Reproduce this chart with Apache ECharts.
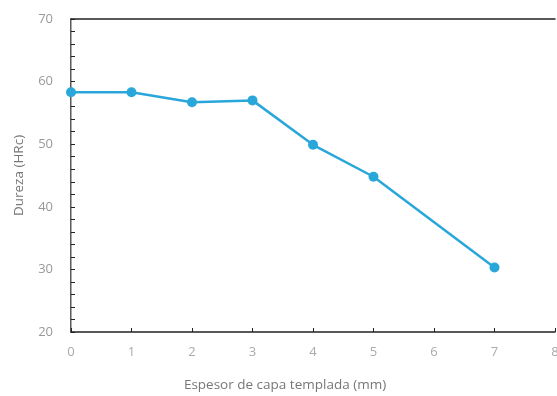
<!DOCTYPE html>
<html>
<head>
<meta charset="utf-8">
<script src="https://cdn.jsdelivr.net/npm/echarts@6/dist/echarts.min.js"></script>
<style>
  html, body { margin: 0; padding: 0; background: #fff; }
  #main { width: 557px; height: 396px; }
</style>
</head>
<body>
<div id="main"></div>
<script>
// espesor de capa (mm) y dureza medida (HRc)
var espesor = [0, 1, 2, 3, 4, 5, 7];
var dureza = [58.3, 58.3, 56.7, 57.0, 49.9, 44.8, 30.3];

var chart = echarts.init(document.getElementById('main'));

var labelFont = '"Open Sans", "Liberation Sans", sans-serif';

var option = {
    backgroundColor: '#ffffff',
    grid: { left: 71, right: 2, top: 19, bottom: 64, outerBoundsMode: 'none' },
    xAxis: [{
        type: 'value',
        min: 0,
        max: 8,
        interval: 1,
        name: 'Espesor de capa templada (mm)',
        nameLocation: 'middle',
        nameGap: 46,
        nameTextStyle: { color: '#777', fontSize: 13.5, fontFamily: labelFont, padding: [0, 56, 0, 0] },
        axisLine: { lineStyle: { color: '#222', width: 1.5 } },
        axisTick: { inside: true, length: 4, lineStyle: { color: '#222' } },
        axisLabel: { color: '#aaa', fontSize: 13, margin: 14, fontFamily: labelFont },
        splitLine: { show: false }
    }, {
        type: 'value',
        position: 'top',
        min: 0,
        max: 8,
        axisLine: { show: true, lineStyle: { color: '#222', width: 1.5 } },
        axisTick: { show: false },
        axisLabel: { show: false },
        splitLine: { show: false }
    }],
    yAxis: [{
        type: 'value',
        min: 20,
        max: 70,
        interval: 10,
        name: 'Dureza (HRc)',
        nameLocation: 'middle',
        nameGap: 45,
        nameTextStyle: { color: '#777', fontSize: 13.5, fontFamily: labelFont },
        axisLine: { show: true, lineStyle: { color: '#222', width: 1.5 } },
        axisTick: { inside: true, length: 4, lineStyle: { color: '#222' } },
        minorTick: { show: true, splitNumber: 5, length: 4, lineStyle: { color: '#222' } },
        axisLabel: { color: '#999', fontSize: 13, margin: 18, fontFamily: labelFont },
        splitLine: { show: false }
    }, {
        type: 'value',
        position: 'right',
        min: 20,
        max: 70,
        axisLine: { show: true, lineStyle: { color: '#aaa', width: 1 } },
        axisTick: { show: false },
        axisLabel: { show: false },
        splitLine: { show: false }
    }],
    series: [{
        type: 'line',
        data: espesor.map(function (x, i) { return [x, dureza[i]]; }),
        symbol: 'circle',
        symbolSize: 10,
        lineStyle: { color: '#2aa7da', width: 2.5 },
        itemStyle: { color: '#2aa7da' }
    }]
};

chart.setOption(option);
</script>
</body>
</html>
